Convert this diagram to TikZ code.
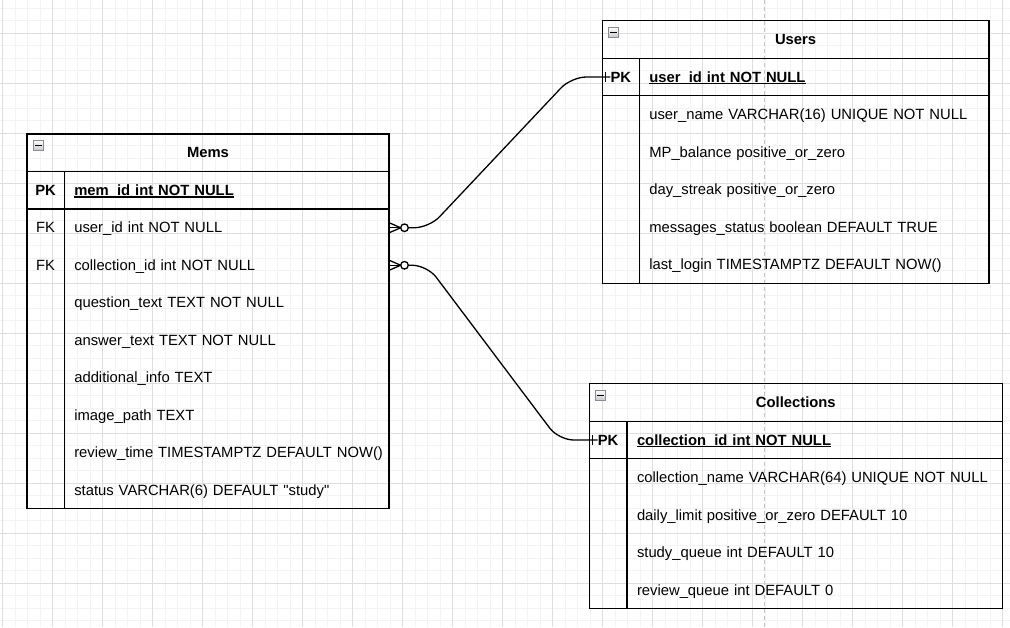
\documentclass[tikz,border=0pt]{standalone}
\usepackage{fontspec}
\setmainfont{Liberation Sans}
\definecolor{gridminor}{HTML}{F3F3F3}
\definecolor{gridmajor}{HTML}{DEDEDE}
\definecolor{pageline}{HTML}{C4C4C4}
\definecolor{iconfill}{HTML}{C8C8CC}
\definecolor{icondraw}{HTML}{8C8C90}
\newcommand\ulbold[1]{\setbox0\hbox{\bfseries #1}\rlap{\rule[-2.4pt]{\wd0}{1.2pt}}\box0}
\tikzset{
  tbox/.style={draw=black, line width=1.3pt},
  sepline/.style={draw=black, line width=1.3pt},
  field/.style={inner xsep=10pt, inner ysep=0pt, minimum height=37.5pt, align=left, text height=13pt, text depth=3pt, font=\fontsize{14.8}{18}\selectfont, anchor=center},
  keycell/.style={inner sep=0pt, minimum height=37.5pt, text height=13pt, text depth=3pt, font=\fontsize{14.8}{18}\selectfont, anchor=center},
  title/.style={inner sep=0pt, text height=13pt, text depth=3pt, font=\fontsize{14.8}{18}\selectfont\bfseries},
  icon/.style={draw=icondraw, line width=0.8pt, top color=white, bottom color=iconfill},
  edge/.style={draw=black, line width=1.3pt},
}
\begin{document}
\begin{tikzpicture}[x=1pt,y=-1pt]
\useasboundingbox (0,0) rectangle (1010,627);
% grid
\foreach \i in {0,...,80} {\draw[gridminor, line width=1pt] ({2.7+12.5*\i},0) -- ({2.7+12.5*\i},627);}
\foreach \j in {0,...,50} {\draw[gridminor, line width=1pt] (0,{8.3+12.5*\j}) -- (1010,{8.3+12.5*\j});}
\foreach \i in {0,...,20} {\draw[gridmajor, line width=1pt] ({2.7+50*\i},0) -- ({2.7+50*\i},627);}
\foreach \j in {0,...,12} {\draw[gridmajor, line width=1pt] (0,{33.3+50*\j}) -- (1010,{33.3+50*\j});}
\draw[pageline, line width=1pt, dash pattern=on 4pt off 3pt] (764.3,0) -- (764.3,627);

% ---------------- Mems ----------------
\draw[tbox] (27,134) rectangle (389,508.5);
\draw[sepline] (27,171.5) -- (389,171.5);
\draw[sepline] (27,209) -- (389,209);
\draw[sepline] (64.3,171.5) -- (64.3,508.5);
\draw[icon] (33,140) rectangle (43.5,150.5);
\draw[black, line width=1.2pt] (35,145.25) -- (41.5,145.25);
\node[title] (mems) at (208,152.75) {Mems};
\node[keycell, font=\fontsize{14.8}{18}\selectfont\bfseries] (mk0) at (45.65,190.25) {PK};
\node[keycell] (mk1) at (45.65,227.75) {FK};
\node[keycell] (mk2) at (45.65,265.25) {FK};
\node[field, text width=304.7pt] (m0) at (226.65,190.25) {\mbox{\ulbold{mem\_id int NOT NULL}}};
\node[field, text width=304.7pt] (m1) at (226.65,227.75) {\mbox{user\_id int NOT NULL}};
\node[field, text width=304.7pt] (m2) at (226.65,265.25) {\mbox{collection\_id int NOT NULL}};
\node[field, text width=304.7pt] (m3) at (226.65,302.75) {\mbox{question\_text TEXT NOT NULL}};
\node[field, text width=304.7pt] (m4) at (226.65,340.25) {\mbox{answer\_text TEXT NOT NULL}};
\node[field, text width=304.7pt] (m5) at (226.65,377.75) {\mbox{additional\_info TEXT}};
\node[field, text width=304.7pt] (m6) at (226.65,415.25) {\mbox{image\_path TEXT}};
\node[field, text width=304.7pt] (m7) at (226.65,452.75) {\mbox{review\_time TIMESTAMPTZ DEFAULT NOW()}};
\node[field, text width=304.7pt] (m8) at (226.65,490.25) {\mbox{status VARCHAR(6) DEFAULT \textquotedbl study\textquotedbl}};

% ---------------- Users ----------------
\draw[tbox] (602.3,20.7) rectangle (989,283.2);
\draw[sepline] (602.3,58.2) -- (989,58.2);
\draw[sepline] (602.3,95.7) -- (989,95.7);
\draw[sepline] (639.3,58.2) -- (639.3,283.2);
\draw[icon] (608.3,27) rectangle (618.8,37.5);
\draw[black, line width=1.2pt] (610.3,32.25) -- (616.8,32.25);
\node[title] (users) at (795.6,39.45) {Users};
\node[keycell, font=\fontsize{14.8}{18}\selectfont\bfseries] (uk0) at (620.8,77) {PK};
\node[field, text width=329.7pt] (u0) at (814.15,77) {\mbox{\ulbold{user\_id int NOT NULL}}};
\node[field, text width=329.7pt] (u1) at (814.15,114.5) {\mbox{user\_name VARCHAR(16) UNIQUE NOT NULL}};
\node[field, text width=329.7pt] (u2) at (814.15,152) {\mbox{MP\_balance positive\_or\_zero}};
\node[field, text width=329.7pt] (u3) at (814.15,189.5) {\mbox{day\_streak positive\_or\_zero}};
\node[field, text width=329.7pt] (u4) at (814.15,227) {\mbox{messages\_status boolean DEFAULT TRUE}};
\node[field, text width=329.7pt] (u5) at (814.15,264.5) {\mbox{last\_login TIMESTAMPTZ DEFAULT NOW()}};

% ---------------- Collections ----------------
\draw[tbox] (589.3,383.7) rectangle (1002.3,608.7);
\draw[sepline] (589.3,421.2) -- (1002.3,421.2);
\draw[sepline] (589.3,458.7) -- (1002.3,458.7);
\draw[sepline] (627,421.2) -- (627,608.7);
\draw[icon] (595.3,390) rectangle (605.8,400.5);
\draw[black, line width=1.2pt] (597.3,395.25) -- (603.8,395.25);
\node[title] (colls) at (795.8,402.45) {Collections};
\node[keycell, font=\fontsize{14.8}{18}\selectfont\bfseries] (ck0) at (608.15,440) {PK};
\node[field, text width=355.3pt] (c0) at (814.65,440) {\mbox{\ulbold{collection\_id int NOT NULL}}};
\node[field, text width=355.3pt] (c1) at (814.65,477.5) {\mbox{collection\_name VARCHAR(64) UNIQUE NOT NULL}};
\node[field, text width=355.3pt] (c2) at (814.65,515) {\mbox{daily\_limit positive\_or\_zero DEFAULT 10}};
\node[field, text width=355.3pt] (c3) at (814.65,552.5) {\mbox{study\_queue int DEFAULT 10}};
\node[field, text width=355.3pt] (c4) at (814.65,590) {\mbox{review\_queue int DEFAULT 0}};

% ---------------- connectors ----------------
% Mems.user_id -> Users.user_id
\draw[edge] ([yshift=5pt]m1.east) -- ([xshift=11.5pt]m1.east) -- ([yshift=-5pt]m1.east);
\draw[edge] (m1.east) -- ([xshift=11.5pt]m1.east);
\draw[edge, fill=white] ([xshift=15.3pt]m1.east) circle (3.8);
\draw[edge, rounded corners=15pt] ([xshift=19.1pt]m1.east) -- ([xshift=40pt]m1.east) -- ([xshift=-39pt]uk0.west) -- (uk0.west);
\draw[edge] ([xshift=-5pt,yshift=5pt]uk0.west) -- ([xshift=-5pt,yshift=-5pt]uk0.west);

% Mems.collection_id -> Collections.collection_id
\draw[edge] ([yshift=5pt]m2.east) -- ([xshift=11.5pt]m2.east) -- ([yshift=-5pt]m2.east);
\draw[edge] (m2.east) -- ([xshift=11.5pt]m2.east);
\draw[edge, fill=white] ([xshift=15.3pt]m2.east) circle (3.8);
\draw[edge, rounded corners=15pt] ([xshift=19.1pt]m2.east) -- ([xshift=38pt]m2.east) -- ([xshift=-39pt]ck0.west) -- (ck0.west);
\draw[edge] ([xshift=-5pt,yshift=5pt]ck0.west) -- ([xshift=-5pt,yshift=-5pt]ck0.west);
\end{tikzpicture}
\end{document}
